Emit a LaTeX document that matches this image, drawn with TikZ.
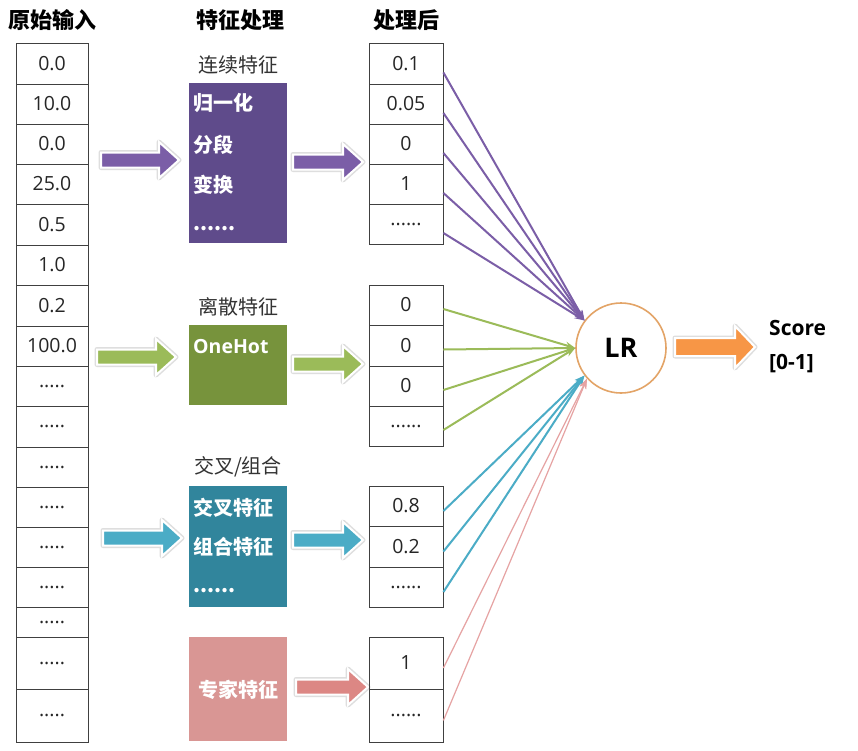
\documentclass[tikz,border=0pt]{standalone}
\usepackage{fontspec}
\setmainfont{Noto Sans CJK SC}
\newfontfamily\latinfont{Open Sans}
\usetikzlibrary{arrows.meta,calc}

\definecolor{purpleD}{HTML}{5F4B8B}
\definecolor{purpleA}{HTML}{7B5EA7}
\definecolor{greenD}{HTML}{77933C}
\definecolor{greenA}{HTML}{9BBB59}
\definecolor{tealD}{HTML}{31859C}
\definecolor{tealA}{HTML}{4BACC6}
\definecolor{pinkD}{HTML}{D99694}
\definecolor{pinkA}{HTML}{DC8784}
\definecolor{pinkL}{HTML}{E6A3A3}
\definecolor{orangeA}{HTML}{F79646}
\definecolor{orangeL}{HTML}{E3A467}

\tikzset{
  cell/.style={draw=black!75, line width=0.8pt, minimum width=74pt, inner sep=0pt,
    text=black!85, font=\latinfont\fontsize{19.5}{19.5}\selectfont},
  colhead/.style={font=\bfseries\fontsize{22}{22}\selectfont},
  grouplabel/.style={text=black!80, font=\fontsize{20}{20}\selectfont},
  item/.style={anchor=west, inner sep=0pt, text=white, font=\bfseries\fontsize{20}{20}\selectfont},
  link/.style={line width=2pt, -{Stealth[length=10pt,width=7pt]}},
}

\newcommand{\fivedots}{.....}
\newcommand{\sixdots}{......}

% block arrow: colour, x start, y centre, length, shaft half, head half
\newcommand{\fatarrow}[6]{%
  \def\fatpath{(#2,#3-#5) -- (#2+#4-20,#3-#5) -- (#2+#4-20,#3-#6) -- (#2+#4,#3)
    -- (#2+#4-20,#3+#6) -- (#2+#4-20,#3+#5) -- (#2,#3+#5) -- cycle}%
  \path[draw=black!13, line width=5pt, line join=round] \fatpath;
  \path[fill=#1, draw=white, line width=2pt] \fatpath;
}

\begin{document}
\begin{tikzpicture}[x=1pt, y=-1pt]
  \useasboundingbox[fill=white] (0,0) rectangle (858,750);

  % column titles
  \node[colhead] (tin)   at (53,20)  {原始输入};
  \node[colhead] (tfeat) at (240,20) {特征处理};
  \node[colhead] (tout)  at (406,20) {处理后};

  % raw input column
  \foreach \t/\b/\v [count=\i] in {43/84/0.0, 84/124/10.0, 124/164/0.0, 164/204/25.0,
      204/245/0.5, 245/285/1.0, 285/326/0.2, 326/366/100.0, 366/406/\fivedots, 406/447/\fivedots,
      447/487/\fivedots, 487/527/\fivedots, 527/567/\fivedots, 567/607/\fivedots, 607/637/\fivedots,
      637/689/\fivedots, 689/742/\fivedots}
    \node[cell, minimum width=72pt, minimum height={(\b-\t)*1pt}] (in\i) at (52,{(\t+\b)/2}) {\v};

  % feature blocks
  \node[grouplabel] (lcont) at (238,65) {连续特征};
  \fill[purpleD] (189,83) rectangle (287,243);
  \node[item] (norm) at (193,103) {归一化};
  \node[item] (bins) at (193,145) {分段};
  \node[item] (trans) at (193,185) {变换};
  \node[item] (cdots) at (193,229) {\sixdots};

  \node[grouplabel] (ldisc) at (238,307) {离散特征};
  \fill[greenD] (189,325) rectangle (287,405);
  \node[item, font=\latinfont\bfseries\fontsize{19.5}{19.5}\selectfont] (onehot) at (193,347) {OneHot};

  \node[grouplabel] (lcross) at (238,467) {交叉/组合};
  \fill[tealD] (189,486) rectangle (287,607);
  \node[item] (cross) at (193,508) {交叉特征};
  \node[item] (comb) at (193,547) {组合特征};
  \node[item] (xdots) at (193,591) {\sixdots};

  \fill[pinkD] (189,637) rectangle (287,741);
  \node[item, anchor=center] (expert) at (238,690) {专家特征};

  % block arrows
  \fatarrow{purpleA}{101}{160}{78}{7.5}{18}
  \fatarrow{purpleA}{293}{162}{70}{7.5}{18}
  \fatarrow{greenA}{97}{357}{79}{7.5}{18}
  \fatarrow{greenA}{293}{364}{70}{7.5}{18}
  \fatarrow{tealA}{103}{538}{79}{7.5}{18}
  \fatarrow{tealA}{293}{540}{70}{7.5}{18}
  \fatarrow{pinkA}{296}{687}{72}{7.5}{18}
  \fatarrow{orangeA}{675}{347}{80}{9}{21}

  % model
  \node[circle, draw=orangeL, line width=1.6pt, minimum size=90pt,
    font=\latinfont\bfseries\fontsize{27}{27}\selectfont] (lr) at (621,348) {LR};
  \node[anchor=west, inner sep=0pt, font=\latinfont\bfseries\fontsize{21}{21}\selectfont] (score) at (769,328) {Score};
  \node[anchor=west, inner sep=0pt, font=\latinfont\bfseries\fontsize{21}{21}\selectfont] (range) at (769,364) {[0-1]};

  % processed values and links
  \foreach \t/\b/\v [count=\i] in {43/84/0.1, 84/124/0.05, 124/164/0, 164/204/1, 204/244/\sixdots} {
    \node[cell, minimum height={(\b-\t)*1pt}] (pa\i) at (406,{(\t+\b)/2}) {\v};
    \draw[link, purpleA] ([yshift=-9pt]pa\i.east) -- (lr.143);
  }
  \foreach \t/\b/\v [count=\i] in {285/325/0, 325/366/0, 366/406/0, 406/446/\sixdots} {
    \node[cell, minimum height={(\b-\t)*1pt}] (pb\i) at (406,{(\t+\b)/2}) {\v};
    \draw[link, greenA] ([yshift=-4pt]pb\i.east) -- (lr.180);
  }
  \foreach \t/\b/\v [count=\i] in {486/526/0.8, 526/567/0.2, 567/607/\sixdots} {
    \node[cell, minimum height={(\b-\t)*1pt}] (pc\i) at (406,{(\t+\b)/2}) {\v};
    \draw[link, tealA] ([yshift=-5pt]pc\i.east) -- (lr.217);
  }
  \foreach \t/\b/\v [count=\i] in {637/689/1, 689/742/\sixdots} {
    \node[cell, minimum height={(\b-\t)*1pt}] (pd\i) at (406,{(\t+\b)/2}) {\v};
    \draw[link, pinkL, line width=1.2pt] ([yshift=-5pt]pd\i.east) -- (lr.222);
  }
\end{tikzpicture}
\end{document}
